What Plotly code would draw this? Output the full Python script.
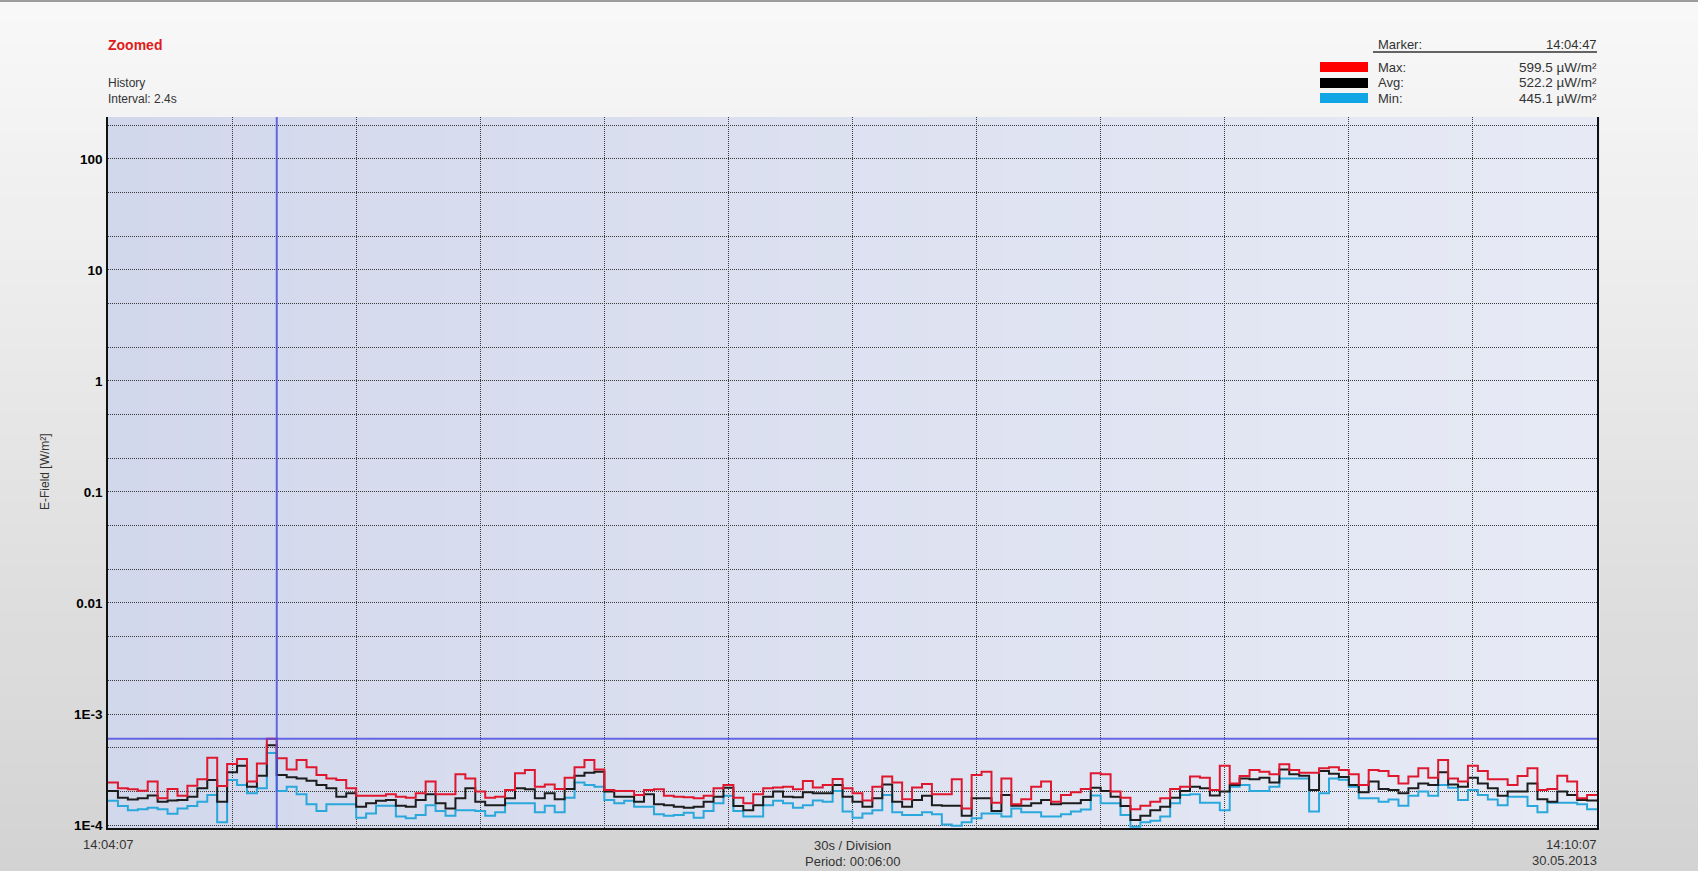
import numpy as np
import plotly.graph_objects as go

# --- data (µW/m², one value per 2.4 s interval) ---
interval_s = 2.4
period_s = 360
division_s = 30

max_uw = [241, 214, 210, 204, 246, 174, 211, 183, 226, 258,
          404, 225, 354, 393, 246, 359, 599.5, 399, 317, 385,
          331, 282, 263, 254, 214, 183, 183, 183, 189, 180,
          176, 193, 246, 189, 189, 286, 263, 200, 176, 180,
          207, 292, 313, 221, 232, 211, 267, 331, 385, 317,
          207, 202, 202, 186, 207, 210, 183, 180, 178, 174,
          183, 214, 229, 176, 157, 189, 214, 218, 221, 210,
          249, 218, 229, 260, 214, 193, 166, 221, 273, 241,
          171, 218, 234, 189, 189, 258, 141, 282, 302, 159,
          263, 154, 171, 221, 246, 162, 186, 197, 211, 292,
          286, 200, 176, 139, 149, 162, 174, 211, 221, 273,
          267, 207, 342, 237, 276, 313, 302, 286, 352, 313,
          296, 296, 324, 331, 313, 286, 229, 313, 307, 276,
          237, 273, 324, 267, 385, 263, 246, 342, 307, 258,
          258, 229, 276, 324, 207, 211, 278, 246, 174, 186]

avg_uw = [202, 176, 170, 174, 184, 162, 166, 168, 180, 214,
          254, 162, 298, 342, 221, 278, 522.2, 282, 269, 263,
          251, 229, 214, 180, 193, 146, 157, 165, 168, 149,
          146, 168, 189, 157, 141, 174, 214, 162, 151, 151,
          174, 214, 210, 174, 193, 171, 211, 278, 296, 302,
          200, 180, 180, 162, 189, 154, 151, 146, 143, 146,
          162, 180, 217, 148, 136, 151, 180, 200, 180, 178,
          197, 193, 193, 229, 180, 162, 146, 174, 232, 162,
          146, 168, 183, 151, 149, 149, 121, 174, 174, 134,
          186, 149, 149, 157, 168, 154, 157, 157, 168, 217,
          202, 180, 148, 111, 121, 136, 146, 176, 202, 221,
          214, 184, 200, 229, 263, 258, 267, 242, 317, 286,
          278, 207, 307, 290, 270, 229, 197, 246, 211, 207,
          193, 214, 237, 229, 298, 232, 221, 267, 237, 214,
          183, 200, 200, 237, 171, 162, 200, 186, 168, 166]

min_uw = [165, 148, 136, 139, 143, 139, 126, 141, 148, 162,
          186, 106, 254, 229, 193, 214, 445.1, 202, 221, 189,
          154, 134, 154, 154, 154, 116, 127, 149, 149, 119,
          115, 123, 151, 134, 121, 136, 136, 134, 121, 130,
          157, 157, 157, 130, 149, 130, 176, 241, 229, 221,
          168, 157, 165, 146, 146, 125, 121, 123, 129, 116,
          134, 157, 183, 134, 119, 119, 151, 165, 157, 143,
          151, 166, 162, 202, 132, 116, 127, 136, 186, 130,
          123, 123, 130, 125, 101, 98.6, 106, 115, 127, 127,
          119, 141, 130, 130, 119, 119, 125, 132, 138, 184,
          157, 157, 123, 96.6, 106, 109, 119, 157, 186, 189,
          159, 159, 136, 221, 229, 202, 202, 221, 263, 263,
          263, 132, 193, 262, 255, 221, 174, 174, 162, 170,
          149, 183, 200, 183, 229, 217, 168, 207, 186, 170,
          151, 180, 180, 148, 130, 159, 159, 159, 154, 139]

marker_index = 16
marker_time = "14:04:47"
start_label = "14:04:07"
end_label = "14:10:07"
date_label = "30.05.2013"

decade_vals = [1e-4, 1e-3, 1e-2, 1e-1, 1, 10, 100]
decade_text = ["1E-4", "1E-3", "0.01", "0.1", "1", "10", "100"]
minor_steps = [2, 5]

# --- geometry (pixels of the 1698x871 page) ---
W, H = 1698, 871
L, R, T, B = 108, 1597, 117, 828
FONT = "Liberation Sans, Arial, sans-serif"


def px(x):
    return (x - L) / (R - L)


def py(y):
    return (B - y) / (B - T)


def mix(c0, c1, f):
    c = [round(a + (b - a) * f) for a, b in zip(c0, c1)]
    return "rgb(%d,%d,%d)" % tuple(c)


def steps(vals):
    v = np.array(vals, dtype=float) * 1e-6
    return np.append(v, v[-1])


t = np.append(np.arange(len(max_uw)) * interval_s, period_s)

fig = go.Figure()
series = [
    ("Min", min_uw, "#2aa8dc"),
    ("Avg", avg_uw, "#1c1c1c"),
    ("Max", max_uw, "#e0182f"),
]
for name, vals, color in series:
    fig.add_trace(go.Scatter(
        x=t, y=steps(vals), name=name, mode="lines",
        line=dict(color=color, width=2, shape="hv"),
        hoverinfo="skip"
    ))

# marker cursor
mx = (marker_index + 1) * interval_s
my = max_uw[marker_index] * 1e-6
cursor = "rgba(80,80,225,0.85)"
fig.add_trace(go.Scatter(x=[0, period_s], y=[my, my], mode="lines",
                         line=dict(color=cursor, width=2), hoverinfo="skip"))
fig.add_trace(go.Scatter(x=[mx, mx], y=[1e-5, 1e3], mode="lines",
                         line=dict(color=cursor, width=2), hoverinfo="skip"))

# y ticks: labelled decades plus unlabelled 2 and 5 gridlines
tickvals, ticktext = [], []
for v, txt in zip(decade_vals, decade_text):
    tickvals.append(v)
    ticktext.append(txt)
    for m in minor_steps:
        tickvals.append(v * m)
        ticktext.append("")

shapes = []
# window background gradient
n = 40
for k in range(n):
    shapes.append(dict(type="rect", xref="paper", yref="paper", layer="below",
                       x0=px(0), x1=px(W), y0=py(H * k / n), y1=py(H * (k + 1) / n + 1),
                       fillcolor=mix((248, 248, 248), (211, 211, 211), k / (n - 1)),
                       line=dict(width=0)))
# plot area gradient
for k in range(n):
    shapes.append(dict(type="rect", xref="paper", yref="paper", layer="below",
                       x0=k / n, x1=(k + 1) / n + 0.002, y0=0, y1=1,
                       fillcolor=mix((210, 216, 236), (231, 234, 245), k / (n - 1)),
                       line=dict(width=0)))
# top border
shapes.append(dict(type="line", xref="paper", yref="paper", x0=px(0), x1=px(W),
                   y0=py(1), y1=py(1), line=dict(color="#9c9c9c", width=2)))
# legend block
shapes.append(dict(type="line", xref="paper", yref="paper", x0=px(1373), x1=px(1597),
                   y0=py(52), y1=py(52), line=dict(color="#333333", width=1.5)))
swatches = [("#ff0000", 62, 72), ("#000000", 78, 88), ("#10a6e6", 93, 103)]
for col, y0, y1 in swatches:
    shapes.append(dict(type="rect", xref="paper", yref="paper",
                       x0=px(1320), x1=px(1368), y0=py(y1), y1=py(y0),
                       fillcolor=col, line=dict(width=0)))

annotations = []


def note(text, x, y, anchor="left", size=12, color="#333333", bold=False, angle=0):
    annotations.append(dict(
        text=text, xref="paper", yref="paper", x=px(x), y=py(y),
        xanchor=anchor, yanchor="middle", showarrow=False, textangle=angle,
        font=dict(family=FONT, size=size, color=color,
                  weight="bold" if bold else "normal")))


note("Zoomed", 106, 45, size=14, color="#e01b1b", bold=True)
note("History", 106, 83)
note("Interval: %gs" % interval_s, 106, 99)
note("Marker:", 1376, 44, size=13)
note(marker_time, 1599, 44, anchor="right", size=13)
for lbl, vals, y in [("Max:", max_uw, 67), ("Avg:", avg_uw, 82.5), ("Min:", min_uw, 98)]:
    note(lbl, 1376, y, size=13)
    note("%.1f µW/m²" % vals[marker_index], 1599, y, anchor="right", size=13.5)
note("E-Field [W/m²]", 45, 472, anchor="center", angle=-90)
note(start_label, 108, 844, anchor="center", size=13)
note("%ds / Division" % division_s, (L + R) / 2, 845, anchor="center", size=13)
note("Period: 00:%02d:00" % (period_s // 60), (L + R) / 2, 861, anchor="center", size=13)
note(end_label, 1599, 844, anchor="right", size=13)
note(date_label, 1599, 860, anchor="right", size=13)

fig.update_layout(
    width=W, height=H, autosize=False,
    margin=dict(l=L, r=W - R, t=T, b=H - B, pad=0),
    paper_bgcolor="#e8e8e8", plot_bgcolor="rgba(0,0,0,0)",
    showlegend=False, shapes=shapes, annotations=annotations,
    font=dict(family=FONT, size=12, color="#333333"),
)
fig.update_xaxes(
    range=[0, period_s], tickmode="linear", tick0=0, dtick=division_s,
    showticklabels=False, ticks="", showgrid=True, gridcolor="#3a3a3a",
    griddash="1px,1px", gridwidth=1, zeroline=False,
    showline=True, linecolor="#111111", linewidth=1.5, mirror=False,
)
fig.update_yaxes(
    type="log", range=[-4.027, 2.378], tickmode="array",
    tickvals=tickvals, ticktext=ticktext, ticks="",
    tickfont=dict(family=FONT, size=13.5, color="#000000", weight="bold"),
    ticklabelstandoff=1,
    showgrid=True, gridcolor="#3a3a3a", griddash="1px,1px", gridwidth=1,
    zeroline=False, showline=True, linecolor="#111111", linewidth=1.5, mirror=True,
)

fig.write_html("out.html", config={"displayModeBar": False},
               post_script="document.body.style.margin='0';document.body.style.overflow='hidden';")
